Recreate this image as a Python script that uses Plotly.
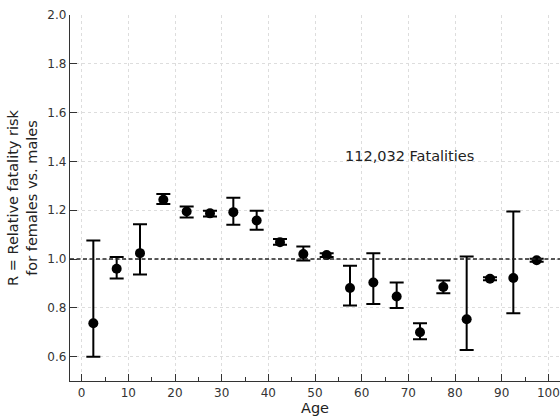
import plotly.graph_objects as go

ages = [2.5, 7.5, 12.5, 17.5, 22.5, 27.5, 32.5, 37.5, 42.5, 47.5,
        52.5, 57.5, 62.5, 67.5, 72.5, 77.5, 82.5, 87.5, 92.5, 97.5]
ratio = [0.737, 0.960, 1.024, 1.243, 1.195, 1.187, 1.192, 1.158, 1.069, 1.020,
         1.016, 0.881, 0.904, 0.846, 0.700, 0.885, 0.753, 0.919, 0.922, 0.995]
upper = [1.076, 1.008, 1.142, 1.266, 1.215, 1.198, 1.251, 1.198, 1.082, 1.051,
         1.024, 0.972, 1.024, 0.904, 0.737, 0.912, 1.010, 0.925, 1.195, 1.001]
lower = [0.599, 0.920, 0.936, 1.225, 1.170, 1.174, 1.140, 1.120, 1.058, 0.994,
         1.008, 0.809, 0.816, 0.799, 0.671, 0.860, 0.627, 0.913, 0.778, 0.989]

err_plus = [u - r for u, r in zip(upper, ratio)]
err_minus = [r - l for r, l in zip(ratio, lower)]

font = "DejaVu Sans"

fig = go.Figure()
fig.add_trace(go.Scatter(
    x=ages, y=ratio, mode="markers",
    marker=dict(color="black", size=10),
    error_y=dict(type="data", symmetric=False, array=err_plus, arrayminus=err_minus,
                 color="black", thickness=2, width=7),
    showlegend=False,
))

fig.add_shape(type="line", xref="paper", yref="y", x0=0, x1=1, y0=1.0, y1=1.0,
              line=dict(color="#222222", width=1.4, dash="4px,2.5px"))

fig.add_annotation(x=56, y=1.4, xref="x", yref="y", text="112,032 Fatalities",
                   showarrow=False, xanchor="left", yanchor="bottom", yshift=-5,
                   font=dict(family=font, size=14.5, color="#222222"))

fig.update_layout(
    width=560, height=417,
    margin=dict(l=70, r=0, t=15, b=36),
    paper_bgcolor="white", plot_bgcolor="white",
    font=dict(family=font, size=12, color="#333333"),
    xaxis=dict(
        range=[-2.5, 102.5], dtick=10, tick0=0,
        showline=True, linecolor="#333333", linewidth=1.3, mirror=False,
        ticks="inside", ticklen=7, tickcolor="#333333", tickwidth=1.3,
        minor=dict(ticks="inside", dtick=5, ticklen=4, tickcolor="#333333",
                   tickwidth=1.3, showgrid=False),
        showgrid=True, gridcolor="#dddddd", griddash="3px,3px", gridwidth=1,
        zeroline=False,
        title=dict(text="Age", standoff=0, font=dict(size=14.5, color="#222222")),
    ),
    yaxis=dict(
        range=[0.5, 2.0], dtick=0.2, tick0=0.6, tickformat=".1f",
        showline=True, linecolor="#333333", linewidth=1.3, mirror=False,
        ticks="inside", ticklen=7, tickcolor="#333333", tickwidth=1.3,
        showgrid=True, gridcolor="#dddddd", griddash="3px,3px", gridwidth=1,
        zeroline=False,
        title=dict(text="R = Relative fatality risk<br>for females vs. males", standoff=6,
                   font=dict(size=14.5, color="#222222")),
    ),
)

fig.write_html("out.html")
